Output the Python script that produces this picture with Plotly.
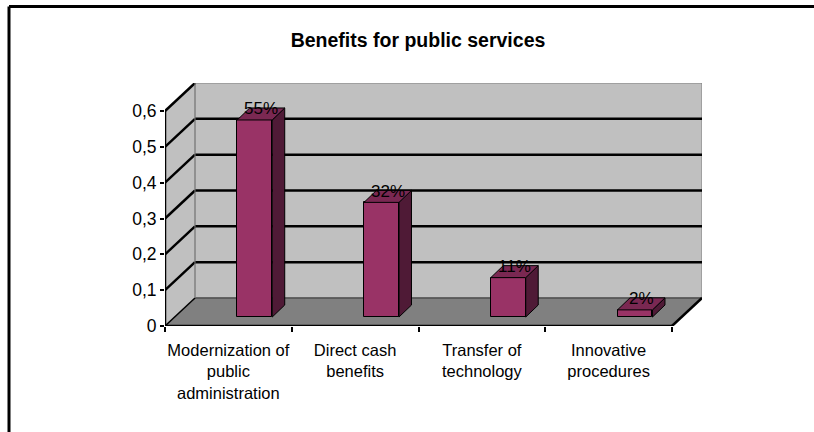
import plotly.graph_objects as go

# ---- data -------------------------------------------------------------
categories = [
    "Modernization of<br>public<br>administration",
    "Direct cash<br>benefits",
    "Transfer of<br>technology",
    "Innovative<br>procedures",
]
shares = [0.55, 0.32, 0.11, 0.02]
y_ticks = [0, 0.1, 0.2, 0.3, 0.4, 0.5, 0.6]
y_tick_labels = ["0", "0,1", "0,2", "0,3", "0,4", "0,5", "0,6"]
title_text = "Benefits for public services"

# ---- 3-D look (oblique projection, in axis units) ---------------------
n_cat = len(categories)
y_top = max(y_ticks)
WALL_DX, WALL_DY = 0.2367, 0.0782      # depth of the floor / side wall
BAR_LEFT, BAR_W = 0.57, 0.276          # bar front face within a category
BAR_BASE = 0.025                       # bars stand slightly behind the front edge
BAR_DX, BAR_DY = 0.0986, 0.0335        # bar depth

FRONT = "#993366"
SIDE = "#4f1a36"
TOP = "#7a2852"
WALL = "#c0c0c0"
FLOOR = "#808080"
FONT = "Liberation Sans, Arial, sans-serif"

# figure / plot-area geometry in pixels
W, H = 814, 432
L, R, T, B = 165, 702, 83, 326


def px_to_paper(px, py):
    return (px - L) / (R - L), (B - py) / (B - T)


fig = go.Figure()

shapes = []

# side wall, back wall and floor
shapes.append(dict(type="path", layer="below", xref="x", yref="y",
                   path=f"M0,0 L0,{y_top} L{WALL_DX},{y_top + WALL_DY} L{WALL_DX},{WALL_DY} Z",
                   fillcolor=WALL, line=dict(color=WALL, width=0)))
shapes.append(dict(type="rect", layer="below", xref="x", yref="y",
                   x0=WALL_DX, y0=WALL_DY, x1=n_cat + WALL_DX, y1=y_top + WALL_DY,
                   fillcolor=WALL, line=dict(color="#808080", width=1)))
shapes.append(dict(type="path", layer="below", xref="x", yref="y",
                   path=f"M0,0 L{n_cat},0 L{n_cat + WALL_DX},{WALL_DY} L{WALL_DX},{WALL_DY} Z",
                   fillcolor=FLOOR, line=dict(color=FLOOR, width=0)))

# gridlines: horizontal on the back wall, diagonal on the side wall
for t in y_ticks:
    if 0 < t < y_top:
        shapes.append(dict(type="line", layer="below", xref="x", yref="y",
                           x0=WALL_DX, y0=t + WALL_DY, x1=n_cat + WALL_DX, y1=t + WALL_DY,
                           line=dict(color="black", width=2.5)))
    if t > 0:
        shapes.append(dict(type="line", layer="below", xref="x", yref="y",
                           x0=0, y0=t, x1=WALL_DX, y1=t + WALL_DY,
                           line=dict(color="black", width=2.5)))

# edges of the floor
shapes.append(dict(type="line", layer="below", xref="x", yref="y",
                   x0=WALL_DX, y0=WALL_DY, x1=n_cat + WALL_DX, y1=WALL_DY,
                   line=dict(color="#303030", width=1)))
shapes.append(dict(type="line", layer="below", xref="x", yref="y",
                   x0=0, y0=0, x1=WALL_DX, y1=WALL_DY,
                   line=dict(color="black", width=1.5)))
shapes.append(dict(type="line", layer="below", xref="x", yref="y",
                   x0=n_cat, y0=0, x1=n_cat + WALL_DX, y1=WALL_DY,
                   line=dict(color="black", width=2.5)))
shapes.append(dict(type="line", layer="above", xref="x", yref="y",
                   x0=WALL_DX, y0=WALL_DY, x1=WALL_DX, y1=y_top + WALL_DY,
                   line=dict(color="#808080", width=1)))

# front axis lines
shapes.append(dict(type="line", layer="above", xref="x", yref="y",
                   x0=0, y0=0, x1=0, y1=y_top, line=dict(color="black", width=2.5)))
shapes.append(dict(type="line", layer="above", xref="x", yref="y",
                   x0=0, y0=0, x1=n_cat, y1=0, line=dict(color="black", width=2.5)))

# outer frame: top and left border only
fx0, fy0 = px_to_paper(9, 6.5)
fx1, fy1 = px_to_paper(W, H)
shapes.append(dict(type="line", layer="above", xref="paper", yref="paper",
                   x0=fx0, y0=fy0, x1=fx1, y1=fy0, line=dict(color="black", width=3)))
shapes.append(dict(type="line", layer="above", xref="paper", yref="paper",
                   x0=fx0, y0=fy0, x1=fx0, y1=fy1, line=dict(color="black", width=3)))

# bars: front faces
x_left = [i + BAR_LEFT for i in range(n_cat)]
x_mid = [x + BAR_W / 2 for x in x_left]
fig.add_trace(go.Bar(
    x=x_mid, y=shares, base=BAR_BASE, width=BAR_W,
    marker=dict(color=FRONT, line=dict(color="black", width=1)),
    hoverinfo="skip", showlegend=False,
))

# bars: side and top faces
side_x, side_y, top_x, top_y = [], [], [], []
for xl, v in zip(x_left, shares):
    xr = xl + BAR_W
    y0, y1 = BAR_BASE, BAR_BASE + v
    side_x += [xr, xr + BAR_DX, xr + BAR_DX, xr, xr, None]
    side_y += [y0, y0 + BAR_DY, y1 + BAR_DY, y1, y0, None]
    top_x += [xl, xr, xr + BAR_DX, xl + BAR_DX, xl, None]
    top_y += [y1, y1, y1 + BAR_DY, y1 + BAR_DY, y1, None]

fig.add_trace(go.Scatter(x=side_x, y=side_y, mode="lines", fill="toself",
                         fillcolor=SIDE, line=dict(color="black", width=1),
                         hoverinfo="skip", showlegend=False))
fig.add_trace(go.Scatter(x=top_x, y=top_y, mode="lines", fill="toself",
                         fillcolor=TOP, line=dict(color="black", width=1),
                         hoverinfo="skip", showlegend=False))

# value labels on top of the bars
annotations = []
for xl, v in zip(x_left, shares):
    annotations.append(dict(
        x=xl + BAR_W / 2 + BAR_DX / 2, y=BAR_BASE + v + BAR_DY / 2,
        xref="x", yref="y", text=f"{round(v * 100)}%", showarrow=False,
        xanchor="center", yanchor="middle", yshift=5,
        font=dict(family=FONT, size=17, color="black"),
    ))

fig.update_layout(
    width=W, height=H,
    margin=dict(l=L, r=W - R, t=T, b=H - B, pad=0),
    paper_bgcolor="white", plot_bgcolor="rgba(0,0,0,0)",
    shapes=shapes, annotations=annotations,
    title=dict(text=f"<b>{title_text}</b>", xref="container", yref="container",
               x=418 / W, y=1 - 40 / H, xanchor="center", yanchor="middle",
               font=dict(family=FONT, size=19.5, color="black")),
    font=dict(family=FONT, color="black"),
    bargap=0,
)

fig.update_xaxes(
    range=[0, n_cat + WALL_DX], showgrid=False, zeroline=False, showline=False,
    tickvals=[i + 0.5 for i in range(n_cat)], ticktext=categories,
    ticks="outside", ticklen=0, tickcolor="rgba(0,0,0,0)",
    ticklabelstandoff=9,
    tickfont=dict(family=FONT, size=16.5, color="black"),
    minor=dict(tickvals=list(range(n_cat + 1)), ticks="outside", ticklen=5,
               tickwidth=2, tickcolor="black", showgrid=False),
    fixedrange=True,
)
fig.update_yaxes(
    range=[0, y_top + WALL_DY], showgrid=False, zeroline=False, showline=False,
    tickvals=y_ticks, ticktext=y_tick_labels,
    ticks="outside", ticklen=4, tickwidth=2, tickcolor="black",
    tickfont=dict(family=FONT, size=17.5, color="black"),
    fixedrange=True,
)

# keep the page itself free of scrollbars
fig.write_html(
    "out.html",
    config={"displayModeBar": False},
    post_script="document.documentElement.style.overflow='hidden';"
                "document.body.style.overflow='hidden';"
                "document.body.style.margin='0';",
)
